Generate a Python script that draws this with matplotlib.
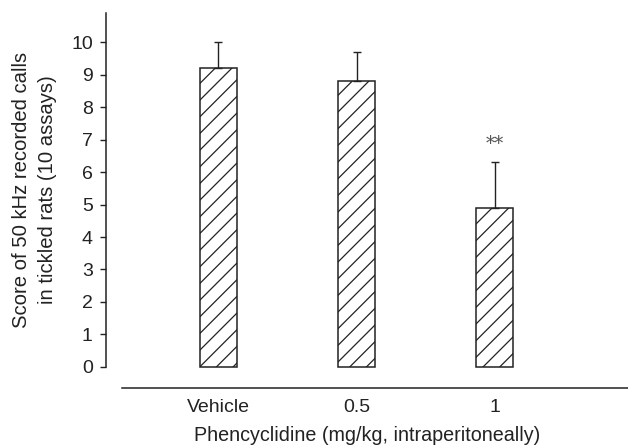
"""Bar chart of 50 kHz call scores in tickled rats after phencyclidine."""

import matplotlib

matplotlib.use("Agg")
import matplotlib.pyplot as plt

# data
doses = ["Vehicle", "0.5", "1"]
scores = [9.2, 8.8, 4.9]
sem = [0.8, 0.9, 1.4]
stars = ["", "", "**"]

plt.rcParams["font.family"] = ["Liberation Sans", "DejaVu Sans"]
plt.rcParams["hatch.linewidth"] = 0.9
plt.rcParams["hatch.color"] = "#444444"

FS = 14
W, H = 628, 445
fig = plt.figure(figsize=(W / 100, H / 100), dpi=100)
# axes box in pixels: x 106..628, y 13..388
ax = fig.add_axes([106 / W, 1 - 388 / H, (628 - 106) / W, (388 - 13) / H])

x = list(range(len(doses)))
ax.bar(
    x,
    scores,
    width=0.268,
    facecolor="white",
    edgecolor="#222222",
    linewidth=1.1,
    hatch="//",
    zorder=2,
)
ax.errorbar(
    x,
    scores,
    yerr=[[0] * len(sem), sem],
    fmt="none",
    ecolor="#222222",
    elinewidth=1.0,
    capsize=2.6,
    capthick=1.0,
    zorder=3,
)
for xi, s, e, st in zip(x, scores, sem, stars):
    if st:
        ax.text(xi, s + e + 0.3, st, ha="center", va="bottom",
                fontsize=13, family="DejaVu Serif", color="#555555")

ax.set_xlim(-0.815, 2.967)
ax.set_ylim(-0.65, 10.9)

ax.spines["top"].set_visible(False)
ax.spines["right"].set_visible(False)
ax.spines["left"].set_bounds(0, 10.9)
ax.spines["bottom"].set_bounds(-0.70, 2.967)
ax.spines["left"].set_linewidth(1.1)
ax.spines["bottom"].set_linewidth(1.1)
ax.spines["left"].set_color("#222222")
ax.spines["bottom"].set_color("#222222")

ax.set_yticks(range(0, 11))
ax.tick_params(axis="y", length=4.5, width=1.0, labelsize=FS, pad=5,
               colors="#222222")
ax.set_xticks(x)
ax.set_xticklabels(doses)
ax.tick_params(axis="x", length=0, labelsize=FS, pad=8, colors="#222222")

ax.set_ylabel("Score of 50 kHz recorded calls\nin tickled rats (10 assays)",
              fontsize=14.6, linespacing=1.45, color="#222222")
ax.yaxis.set_label_coords(-0.094, 0.528)
ax.set_xlabel("Phencyclidine (mg/kg, intraperitoneally)", fontsize=14.2,
              labelpad=7, color="#222222")

fig.savefig("out.png", dpi=100)
